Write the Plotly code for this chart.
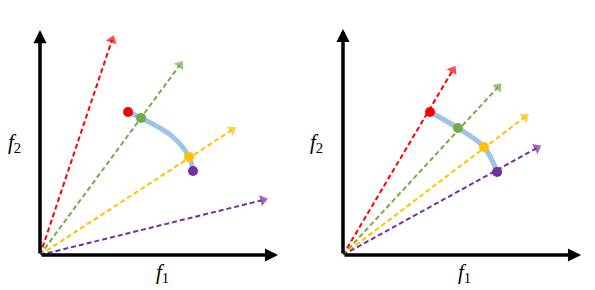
import plotly.graph_objects as go

W, H = 595, 290

ray_colors = ["#FF0000", "#70AD47", "#FFC000", "#7030A0"]
curve_color = "#9DC3E6"

# Left panel (units: f1, f2)
left_axis_end_f1 = 9.92
left_axis_end_f2 = 9.375
left_ray_f1 = [3.0, 5.83, 8.0, 9.29]
left_ray_f2 = [8.96, 7.92, 5.21, 2.29]
left_pts_f1 = [3.67, 4.21, 6.21, 6.375]
left_pts_f2 = [5.96, 5.71, 4.08, 3.5]
left_curve_f1 = [3.67, 4.21, 5.5, 6.21, 6.375]
left_curve_f2 = [5.96, 5.71, 4.95, 4.08, 3.5]

# Right panel
right_axis_end_f1 = 9.92
right_axis_end_f2 = 9.42
right_ray_f1 = [4.58, 6.46, 7.58, 8.08]
right_ray_f2 = [7.71, 7.0, 5.75, 4.46]
right_pts_f1 = [3.625, 4.79, 5.875, 6.42]
right_pts_f2 = [5.96, 5.29, 4.5, 3.46]
right_curve_f1 = [3.625, 4.79, 5.875, 6.42]
right_curve_f2 = [5.96, 5.29, 4.5, 3.46]

fig = go.Figure()

def add_panel(xa, ya, ray_f1, ray_f2, curve_f1, curve_f2, pts_f1, pts_f2, xend, yend):
    for c, rx, ry in zip(ray_colors, ray_f1, ray_f2):
        fig.add_trace(go.Scatter(
            x=[0, rx], y=[0, ry], mode="lines+markers", xaxis=xa, yaxis=ya,
            line=dict(color=c, width=2, dash="5px,3px"),
            marker=dict(symbol="triangle-up", size=[0, 10], color=c, angleref="previous",
                        line=dict(width=0)),
            cliponaxis=False, showlegend=False, hoverinfo="skip"))
    fig.add_trace(go.Scatter(
        x=curve_f1, y=curve_f2, mode="lines", xaxis=xa, yaxis=ya,
        line=dict(color=curve_color, width=5, shape="spline", smoothing=1.0),
        cliponaxis=False, showlegend=False, hoverinfo="skip"))
    fig.add_trace(go.Scatter(
        x=pts_f1, y=pts_f2, mode="markers", xaxis=xa, yaxis=ya,
        marker=dict(size=10, color=ray_colors, line=dict(width=0)),
        cliponaxis=False, showlegend=False, hoverinfo="skip"))
    xr = "x" if xa == "x" else xa
    yr = "y" if ya == "y" else ya
    for (tx, ty) in [(xend, 0), (0, yend)]:
        fig.add_annotation(x=tx, y=ty, ax=0, ay=0, xref=xr, yref=yr, axref=xr, ayref=yr,
                           showarrow=True, arrowhead=2, arrowsize=0.75, arrowwidth=3.5,
                           arrowcolor="black", text="")

add_panel("x", "y", left_ray_f1, left_ray_f2, left_curve_f1, left_curve_f2,
          left_pts_f1, left_pts_f2, left_axis_end_f1, left_axis_end_f2)
add_panel("x2", "y2", right_ray_f1, right_ray_f2, right_curve_f1, right_curve_f2,
          right_pts_f1, right_pts_f2, right_axis_end_f1, right_axis_end_f2)

ax_common = dict(showgrid=False, zeroline=False, showticklabels=False, showline=False,
                 ticks="", fixedrange=True)
ydom = [35 / H, 275 / H]
fig.update_layout(
    width=W, height=H, margin=dict(l=0, r=0, t=0, b=0),
    paper_bgcolor="white", plot_bgcolor="rgba(0,0,0,0)",
    xaxis=dict(domain=[40 / W, 280 / W], range=[0, 10], **ax_common),
    yaxis=dict(domain=ydom, range=[0, 10], **ax_common),
    xaxis2=dict(domain=[343 / W, 583 / W], range=[0, 10], anchor="y2", **ax_common),
    yaxis2=dict(domain=ydom, range=[0, 10], anchor="x2", **ax_common),
)

lab_font = dict(family="Liberation Serif, DejaVu Serif, serif", size=21, color="black")
for (px, py, t) in [(14, 143, "<i>f</i><sub>2</sub>"), (162, 273, "<i>f</i><sub>1</sub>"),
                    (316, 143, "<i>f</i><sub>2</sub>"), (464, 273, "<i>f</i><sub>1</sub>")]:
    fig.add_annotation(x=px / W, y=1 - py / H, xref="paper", yref="paper", text=t,
                       showarrow=False, font=lab_font, xanchor="center", yanchor="middle")

fig.write_html("out.html")
